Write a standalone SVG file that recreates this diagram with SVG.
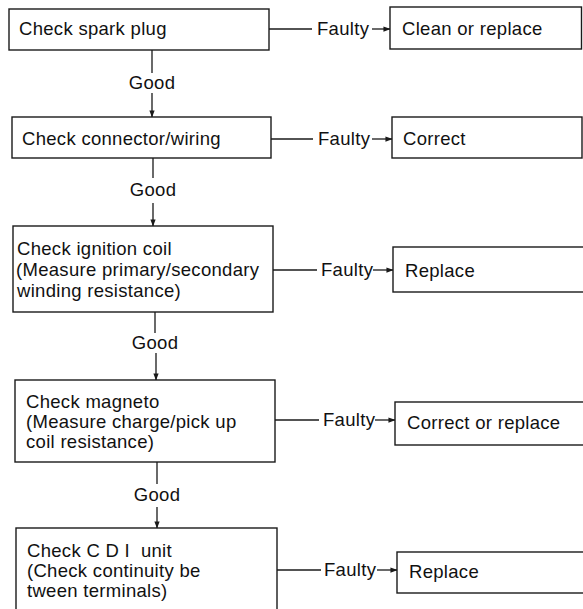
<svg xmlns="http://www.w3.org/2000/svg" width="583" height="609" viewBox="0 0 583 609">
  <defs>
    <marker id="arrow" viewBox="0 0 8 8" refX="7.5" refY="4" markerWidth="7" markerHeight="7" markerUnits="userSpaceOnUse" orient="auto">
      <path d="M0,1 L8,4 L0,7 Z" fill="#1a1a1a"/>
    </marker>
  </defs>
  <style>
    .box { fill: #ffffff; stroke: #1a1a1a; stroke-width: 1.4; }
    .line { fill: none; stroke: #1a1a1a; stroke-width: 1.3; }
    .txt { font-family: "Liberation Sans", Arial, sans-serif; font-size: 18.5px; letter-spacing: 0.3px; fill: #111111; white-space: pre; }
    .mid { text-anchor: middle; }
  </style>
  <rect width="583" height="609" fill="#ffffff"/>

  <!-- connectors -->
  <g id="connectors">
    <!-- Good path down the left column -->
    <line class="line" x1="152" y1="50" x2="152" y2="73"/>
    <line class="line" x1="152" y1="93" x2="152" y2="117" marker-end="url(#arrow)"/>
    <line class="line" x1="153" y1="158" x2="153" y2="178"/>
    <line class="line" x1="153" y1="203" x2="153" y2="226" marker-end="url(#arrow)"/>
    <line class="line" x1="155" y1="312" x2="155" y2="333"/>
    <line class="line" x1="156" y1="353" x2="156" y2="380" marker-end="url(#arrow)"/>
    <line class="line" x1="157" y1="462" x2="157" y2="484"/>
    <line class="line" x1="157" y1="507" x2="157" y2="528" marker-end="url(#arrow)"/>

    <!-- Faulty branches -->
    <line class="line" x1="269" y1="29" x2="312" y2="29"/>
    <line class="line" x1="372" y1="29" x2="390" y2="29" marker-end="url(#arrow)"/>
    <line class="line" x1="271" y1="139" x2="313" y2="139"/>
    <line class="line" x1="372" y1="139" x2="392" y2="139" marker-end="url(#arrow)"/>
    <line class="line" x1="273" y1="270" x2="317" y2="270"/>
    <line class="line" x1="373" y1="270" x2="393" y2="270" marker-end="url(#arrow)"/>
    <line class="line" x1="275" y1="420" x2="319" y2="420"/>
    <line class="line" x1="375" y1="420" x2="395" y2="420" marker-end="url(#arrow)"/>
    <line class="line" x1="277" y1="570" x2="321" y2="570"/>
    <line class="line" x1="377" y1="570" x2="397" y2="570" marker-end="url(#arrow)"/>

    <text class="txt mid" x="152" y="89">Good</text>
    <text class="txt mid" x="153" y="196">Good</text>
    <text class="txt mid" x="155" y="349">Good</text>
    <text class="txt mid" x="157" y="501">Good</text>

    <text class="txt" x="317" y="35">Faulty</text>
    <text class="txt" x="318" y="145">Faulty</text>
    <text class="txt" x="321" y="276">Faulty</text>
    <text class="txt" x="323" y="426">Faulty</text>
    <text class="txt" x="324" y="576">Faulty</text>
  </g>

  <!-- check steps -->
  <g id="spark-plug">
    <rect class="box" x="9" y="9" width="260" height="41"/>
    <text class="txt" x="19" y="35">Check spark plug</text>
  </g>
  <g id="connector-wiring">
    <rect class="box" x="12" y="117" width="259" height="41"/>
    <text class="txt" x="22" y="145">Check connector/wiring</text>
  </g>
  <g id="ignition-coil">
    <rect class="box" x="13" y="226" width="260" height="86"/>
    <text class="txt" x="17" y="255">Check ignition coil</text>
    <text class="txt" x="16" y="276">(Measure primary/secondary</text>
    <text class="txt" x="17" y="297">winding resistance)</text>
  </g>
  <g id="magneto">
    <rect class="box" x="15" y="380" width="260" height="82"/>
    <text class="txt" x="26" y="408">Check magneto</text>
    <text class="txt" x="26" y="428">(Measure charge/pick up</text>
    <text class="txt" x="26" y="448">coil resistance)</text>
  </g>
  <g id="cdi-unit">
    <rect class="box" x="16" y="528" width="261" height="100"/>
    <text class="txt" x="27" y="557">Check C D I  unit</text>
    <text class="txt" x="27" y="577">(Check continuity be</text>
    <text class="txt" x="27" y="597">tween terminals)</text>
  </g>

  <!-- remedies -->
  <g id="clean-or-replace">
    <rect class="box" x="390" y="7" width="191.5" height="42"/>
    <text class="txt" x="402" y="35">Clean or replace</text>
  </g>
  <g id="correct">
    <rect class="box" x="392" y="117" width="190" height="41"/>
    <text class="txt" x="403" y="145">Correct</text>
  </g>
  <g id="replace-coil">
    <rect class="box" x="393" y="247" width="200" height="45"/>
    <text class="txt" x="405" y="277">Replace</text>
  </g>
  <g id="correct-or-replace">
    <rect class="box" x="395" y="402" width="200" height="43"/>
    <text class="txt" x="407" y="429">Correct or replace</text>
  </g>
  <g id="replace-cdi">
    <rect class="box" x="397" y="552" width="200" height="41"/>
    <text class="txt" x="409" y="578">Replace</text>
  </g>
</svg>
